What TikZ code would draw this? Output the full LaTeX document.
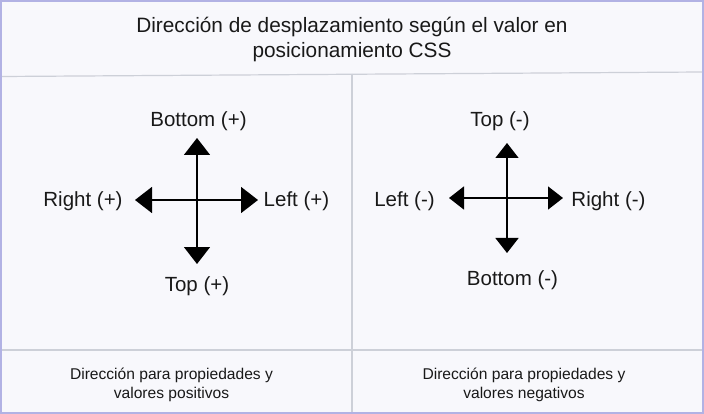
\documentclass[tikz,border=0pt]{standalone}
\usepackage{fontspec}
\setmainfont{Liberation Sans}
\usetikzlibrary{arrows.meta}
\definecolor{bgc}{RGB}{248,248,252}
\definecolor{framec}{RGB}{178,178,228}
\definecolor{divc}{RGB}{205,208,216}
\definecolor{txt}{RGB}{25,25,25}
\tikzset{
  lbl/.style={anchor=base,inner sep=0pt,text=txt,font=\fontsize{20.5}{24}\selectfont},
  captext/.style={anchor=base,inner sep=0pt,text=txt,align=center,font=\fontsize{15.6}{18.5}\selectfont},
  ttl/.style={anchor=base,inner sep=0pt,text=txt,align=center,font=\fontsize{20.8}{24.5}\selectfont},
  divider/.style={draw=divc,line width=1.2pt},
  bigarrow/.style={line width=1.6pt,{Triangle[length=17pt,width=26pt]}-{Triangle[length=17pt,width=26pt]}},
  smallarrow/.style={line width=1.6pt,{Triangle[length=15pt,width=23pt]}-{Triangle[length=15pt,width=23pt]}}
}
\begin{document}
\begin{tikzpicture}[x=1pt,y=-1pt]
\useasboundingbox (0,0) rectangle (704,414);
\fill[bgc] (0,0) rectangle (704,414);
\draw[framec,line width=2pt] (1,1) rectangle (703,413);
% dividers
\coordinate (hl1) at (2,76.5);
\coordinate (hr1) at (702,72);
\coordinate (hl2) at (2,350);
\coordinate (hr2) at (702,350);
\coordinate (vt) at (352,74);
\coordinate (vb) at (352,412);
\draw[divider] (hl1) -- (hr1);
\draw[divider] (hl2) -- (hr2);
\draw[divider] (vt) -- (vb);
% title (base anchor = last line baseline)
\node[ttl] (title) at (352,57.5) {Dirección de desplazamiento según el valor en\\posicionamiento CSS};
% left cross
\coordinate (aT) at (197,138);
\coordinate (aB) at (197,264);
\coordinate (aL) at (135,200);
\coordinate (aR) at (258,200);
\draw[bigarrow] (aB) -- (aT);
\draw[bigarrow] (aL) -- (aR);
\node[lbl] (a1) at (198.5,127) {Bottom (+)};
\node[lbl] (a2) at (197,291) {Top (+)};
\node[lbl] (a3) at (83,207) {Right (+)};
\node[lbl] (a4) at (296.5,207) {Left (+)};
% right cross
\coordinate (bT) at (507,143);
\coordinate (bB) at (507,253);
\coordinate (bL) at (449,198);
\coordinate (bR) at (563,198);
\draw[smallarrow] (bB) -- (bT);
\draw[smallarrow] (bL) -- (bR);
\node[lbl] (b1) at (500,127) {Top (-)};
\node[lbl] (b2) at (512.5,285) {Bottom (-)};
\node[lbl] (b3) at (404.5,207) {Left (-)};
\node[lbl] (b4) at (608.5,207) {Right (-)};
% captions
\node[captext] (c1) at (171.5,398) {Dirección para propiedades y\\valores positivos};
\node[captext] (c2) at (524,398) {Dirección para propiedades y\\valores negativos};
\end{tikzpicture}
\end{document}
